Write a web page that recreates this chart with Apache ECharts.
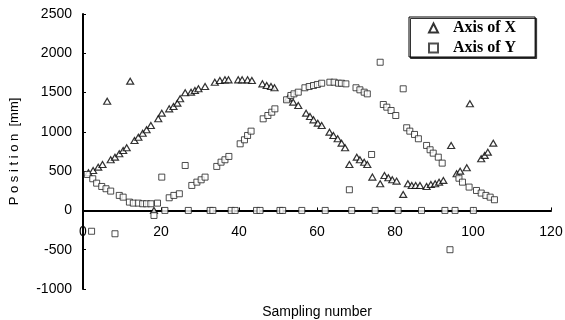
<!DOCTYPE html>
<html>
<head>
<meta charset="utf-8">
<script src="https://cdn.jsdelivr.net/npm/echarts@6/dist/echarts.min.js"></script>
<style>
  html, body { margin: 0; padding: 0; background: #fff; }
  #chart { width: 565px; height: 320px; }
</style>
</head>
<body>
<div id="chart"></div>
<script>
// Axis of X (triangles): sampling number / position [mm]
var xSamples = [1.4, 2.6, 3.9, 5.0, 6.2, 7.1, 8.2, 9.3, 10.3, 11.2, 12.1, 13.2, 14.2, 15.3, 16.3, 17.4, 18.2,
    19.3, 20.2, 22.1, 23.2, 24.2, 24.9, 26.2, 27.7, 28.7, 29.6, 31.3, 33.8, 35.1, 36.4, 37.3, 39.8, 40.8,
    42.2, 43.3, 46.0, 47.1, 48.2, 49.1, 52.6, 53.9, 55.2, 57.2, 58.2, 59.1, 60.2, 61.2, 63.2, 64.2, 65.3,
    66.3, 67.2, 68.3, 70.2, 71.0, 72.1, 72.9, 74.2, 76.2, 77.3, 78.3, 79.3, 80.4, 82.1, 83.3, 84.3, 85.3,
    86.4, 88.1, 89.2, 90.3, 91.3, 92.4, 94.4, 95.8, 96.7, 98.4, 99.2, 102.1, 103.0, 103.8, 105.2];
var xPositions = [480, 509, 551, 585, 1390, 645, 678, 721, 763, 797, 1645, 890, 932, 983, 1026, 1081, 0,
    1166, 1238, 1293, 1323, 1365, 1421, 1497, 1505, 1526, 1548, 1577, 1632, 1654, 1662, 1662, 1662, 1662,
    1662, 1654, 1611, 1590, 1577, 1561, 1430, 1378, 1336, 1238, 1196, 1153, 1111, 1081, 996, 954, 912,
    856, 797, 585, 678, 645, 614, 585, 424, 339, 445, 416, 390, 373, 204, 339, 318, 318,
    318, 305, 331, 339, 360, 382, 827, 467, 500, 543, 1357, 658, 700, 742, 856];

// Axis of Y (squares)
var ySamples = [1.1, 2.2, 2.5, 3.5, 4.8, 5.9, 7.1, 8.2, 9.3, 10.3, 11.9, 12.9, 14.2, 15.3, 16.3, 17.4, 18.2,
    19.1, 20.2, 21.0, 22.1, 23.3, 24.7, 26.2, 27.0, 27.9, 29.2, 30.3, 31.3, 32.6, 33.3, 34.3, 35.4, 36.4,
    37.4, 38.0, 39.0, 40.3, 41.4, 42.2, 43.1, 44.5, 45.4, 46.2, 47.4, 48.4, 49.2, 50.5, 51.2, 52.2, 53.3,
    54.1, 55.2, 56.1, 56.9, 58.0, 59.1, 60.1, 61.2, 62.1, 63.3, 64.4, 65.5, 66.3, 67.4, 68.3, 68.9, 70.0,
    71.0, 72.1, 72.9, 74.0, 74.9, 76.2, 77.0, 77.9, 79.0, 80.2, 80.8, 82.1, 83.0, 83.8, 85.0, 86.0, 86.8,
    88.1, 89.0, 89.8, 91.1, 92.1, 92.8, 94.1, 95.4, 96.4, 97.3, 99.0, 100.1, 100.9, 102.1, 103.3, 104.4, 105.5];
var yPositions = [458, -265, 403, 347, 305, 276, 246, -297, 191, 169, 106, 93, 93, 85, 85, 85, -64,
    93, 424, 0, 161, 191, 212, 572, 0, 318, 360, 390, 424, 0, 0, 560, 614, 645,
    687, 0, 0, 848, 899, 954, 1009, 0, 0, 1166, 1208, 1250, 1293, 0, 0, 1408, 1463,
    1484, 1505, 0, 1561, 1577, 1590, 1603, 1619, 0, 1632, 1632, 1619, 1619, 1611, 263, 0, 1561,
    1535, 1505, 1484, 712, 0, 1886, 1348, 1314, 1272, 1208, 0, 1548, 1052, 1009, 967, 912, 0,
    827, 772, 729, 678, 602, 0, -500, 0, 410, 360, 297, 0, 254, 221, 191, 169, 136];

var yMin = -1000, yMax = 2500;

function pairs(xs, ys) {
    var out = [];
    for (var i = 0; i < xs.length; i++) {
        out.push([xs[i], ys[i]]);
    }
    return out;
}

// plain numbers, no thousands separator
function plain(v) {
    return String(v);
}

var myChart = echarts.init(document.getElementById('chart'));

var gridTop = 14, gridBottom = 31;
var plotH = 320 - gridTop - gridBottom;
// move the whole x axis (line, labels, name) up to y = 0
var zeroShift = -plotH * (0 - yMin) / (yMax - yMin);

var labelFont = { color: '#000', fontSize: 14, fontFamily: 'Liberation Sans' };

var option = {
    animation: false,
    backgroundColor: '#fff',
    grid: { left: 83, right: 14, top: gridTop, bottom: gridBottom, containLabel: false, outerBoundsMode: 'none' },
    legend: {
        orient: 'vertical',
        left: 409,
        top: 17,
        padding: [3, 19, 1, 19],
        itemGap: 4,
        itemWidth: 9,
        itemHeight: 9,
        borderColor: '#000',
        borderWidth: 1,
        borderRadius: 0,
        backgroundColor: '#fff',
        shadowColor: '#333',
        shadowOffsetX: 1.5,
        shadowOffsetY: 1.5,
        textStyle: {
            color: '#000',
            fontSize: 16,
            fontWeight: 'bold',
            fontFamily: 'Liberation Serif',
            padding: [0, 0, 0, 10]
        },
        data: [
            { name: 'Axis of X', icon: 'triangle' },
            { name: 'Axis of Y', icon: 'rect' }
        ]
    },
    xAxis: {
        type: 'value',
        min: 0,
        max: 120,
        interval: 20,
        position: 'bottom',
        offset: zeroShift,
        name: 'Sampling number',
        nameLocation: 'middle',
        nameGap: 95,
        nameTextStyle: { color: '#000', fontSize: 14, fontFamily: 'Liberation Sans' },
        axisLine: { onZero: false, lineStyle: { color: '#000', width: 2 } },
        axisTick: { inside: true, length: 3, lineStyle: { color: '#000' } },
        axisLabel: Object.assign({ margin: 15, formatter: plain }, labelFont),
        splitLine: { show: false }
    },
    yAxis: {
        type: 'value',
        min: yMin,
        max: yMax,
        interval: 500,
        name: 'P o s i t i o n  [mm]',
        nameLocation: 'middle',
        nameRotate: 90,
        nameGap: 62,
        nameTextStyle: { color: '#000', fontSize: 13, fontFamily: 'Liberation Sans' },
        axisLine: { show: true, onZero: false, lineStyle: { color: '#000', width: 2 } },
        axisTick: { show: true, inside: true, length: 3, lineStyle: { color: '#000' } },
        axisLabel: Object.assign({ margin: 11, formatter: plain }, labelFont),
        splitLine: { show: false }
    },
    series: [
        {
            name: 'Axis of X',
            type: 'scatter',
            symbol: 'triangle',
            symbolSize: [7, 6],
            itemStyle: { color: '#fff', borderColor: '#000', borderWidth: 1.2 },
            data: pairs(xSamples, xPositions)
        },
        {
            name: 'Axis of Y',
            type: 'scatter',
            symbol: 'rect',
            symbolSize: 6,
            itemStyle: { color: '#fff', borderColor: '#222', borderWidth: 1 },
            data: pairs(ySamples, yPositions)
        }
    ]
};

myChart.setOption(option);
</script>
</body>
</html>
